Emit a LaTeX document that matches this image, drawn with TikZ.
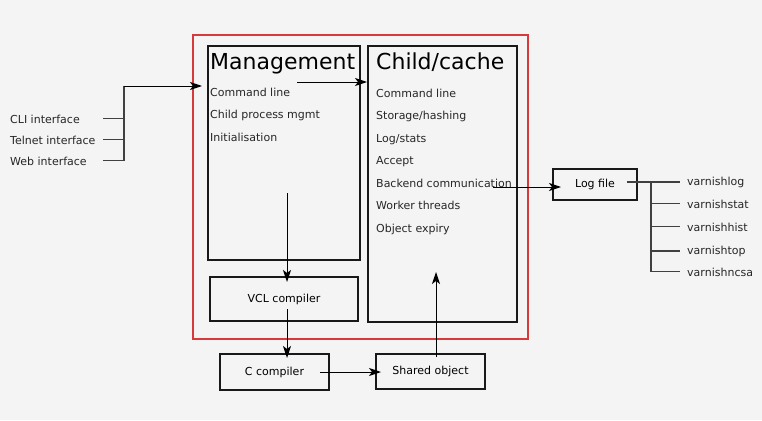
\documentclass[tikz,border=0pt]{standalone}
\usepackage{fontspec}
\setmainfont{DejaVu Sans}
\usetikzlibrary{arrows.meta,positioning,calc}
\definecolor{framered}{HTML}{D63A3A}
\definecolor{paper}{HTML}{F4F4F4}

\begin{document}
\begin{tikzpicture}[
    x=1pt, y=-1pt,
    box/.style={draw=black!90, line width=2pt, inner sep=0pt, font=\fontsize{11}{13}\selectfont},
    item/.style={anchor=base west, inner sep=0pt, text=black!85, font=\fontsize{11}{13}\selectfont},
    title/.style={anchor=base west, inner sep=0pt, font=\fontsize{22}{26}\selectfont},
    arrow/.style={-{Stealth[length=12pt,width=8pt,inset=3pt]}, line width=1pt},
    tree/.style={line width=1.1pt, draw=black!75}
]
\fill[paper] (0,0) rectangle (762,420);
\useasboundingbox (0,0) rectangle (762,420);

% main frame and boxes
\node[draw=framered, line width=1.6pt, minimum width=335pt, minimum height=304pt] (core) at (360.5,187) {};
\node[box, minimum width=152pt, minimum height=214pt] (mgmt) at (284,153) {};
\node[box, minimum width=149pt, minimum height=276pt] (child) at (442.5,184) {};
\node[box, minimum width=148pt, minimum height=44pt] (vcl) at (284,299) {VCL compiler};
\node[box, minimum width=109pt, minimum height=36pt] (ccomp) at (274.5,372) {C compiler};
\node[box, minimum width=109pt, minimum height=35pt] (shared) at (430.5,371.5) {Shared object};
\node[box, minimum width=84pt, minimum height=31pt] (log) at (595,184.5) {Log file};

% box contents
\node[title] (mgmttitle) at (210,70) {Management};
\node[item] (mcmd) at (210,96) {Command line};
\node[item] (mproc) at (210,118) {Child process mgmt};
\node[item] (minit) at (210,141) {Initialisation};

\node[title] (childtitle) at (376,70) {Child/cache};
\node[item] (ccmd) at (376,97) {Command line};
\node[item] (cstore) at (376,119) {Storage/hashing};
\node[item] (cstats) at (376,142) {Log/stats};
\node[item] (caccept) at (376,164) {Accept};
\node[item] (cbackend) at (376,187) {Backend communication};
\node[item] (cworker) at (376,209) {Worker threads};
\node[item] (cexpiry) at (376,232) {Object expiry};

% interfaces
\node[item] (cli) at (10,123) {CLI interface};
\node[item] (telnet) at (10,144) {Telnet interface};
\node[item] (web) at (10,165) {Web interface};

% log tools
\node[item] (vlog) at (687,185) {varnishlog};
\node[item] (vstat) at (687,208) {varnishstat};
\node[item] (vhist) at (687,231) {varnishhist};
\node[item] (vtop) at (687,254) {varnishtop};
\node[item] (vncsa) at (687,276) {varnishncsa};

% free ends
\coordinate (ifstub) at (103,0);
\coordinate (ifbus) at (124,86);
\coordinate (cmdstart) at (297,82);
\coordinate (vclstart) at (287,193);
\coordinate (cstart) at (287,309);
\coordinate (cstop) at (320,372);
\coordinate (loadend) at (436,272);
\coordinate (logstart) at (493,187);
\coordinate (logtap) at (627,182);
\coordinate (logbus) at (651,182);

% connectors
\draw[tree] (cli.east -| ifstub) -- (cli.east -| ifbus);
\draw[tree] (telnet.east -| ifstub) -- (telnet.east -| ifbus);
\draw[tree] (web.east -| ifstub) -- (web.east -| ifbus);
\draw[tree] (web.east -| ifbus) -- (ifbus);
\draw[arrow] (ifbus) -- ([xshift=-5pt]mgmt.west |- ifbus);
\draw[arrow] (cmdstart) -- (cmdstart -| child.west);
\draw[arrow] (vclstart) -- ([yshift=-6pt]vclstart |- vcl.north);
\draw[arrow] (cstart) -- ([yshift=-5pt]cstart |- ccomp.north);
\draw[arrow] (cstop) -- ([xshift=6pt]shared.west |- cstop);
\draw[arrow] ([yshift=-4pt]loadend |- shared.north) -- (loadend);
\draw[arrow] (logstart) -- ([xshift=9pt]log.west |- logstart);

\draw[tree] (logtap) -- (logbus);
\draw[tree] (logbus) -- (logbus |- vncsa.west);
\draw[tree, shorten >=7pt] (logbus |- vlog.west) -- (vlog.west);
\draw[tree, shorten >=7pt] (logbus |- vstat.west) -- (vstat.west);
\draw[tree, shorten >=7pt] (logbus |- vhist.west) -- (vhist.west);
\draw[tree, shorten >=7pt] (logbus |- vtop.west) -- (vtop.west);
\draw[tree, shorten >=7pt] (logbus |- vncsa.west) -- (vncsa.west);
\end{tikzpicture}
\end{document}
